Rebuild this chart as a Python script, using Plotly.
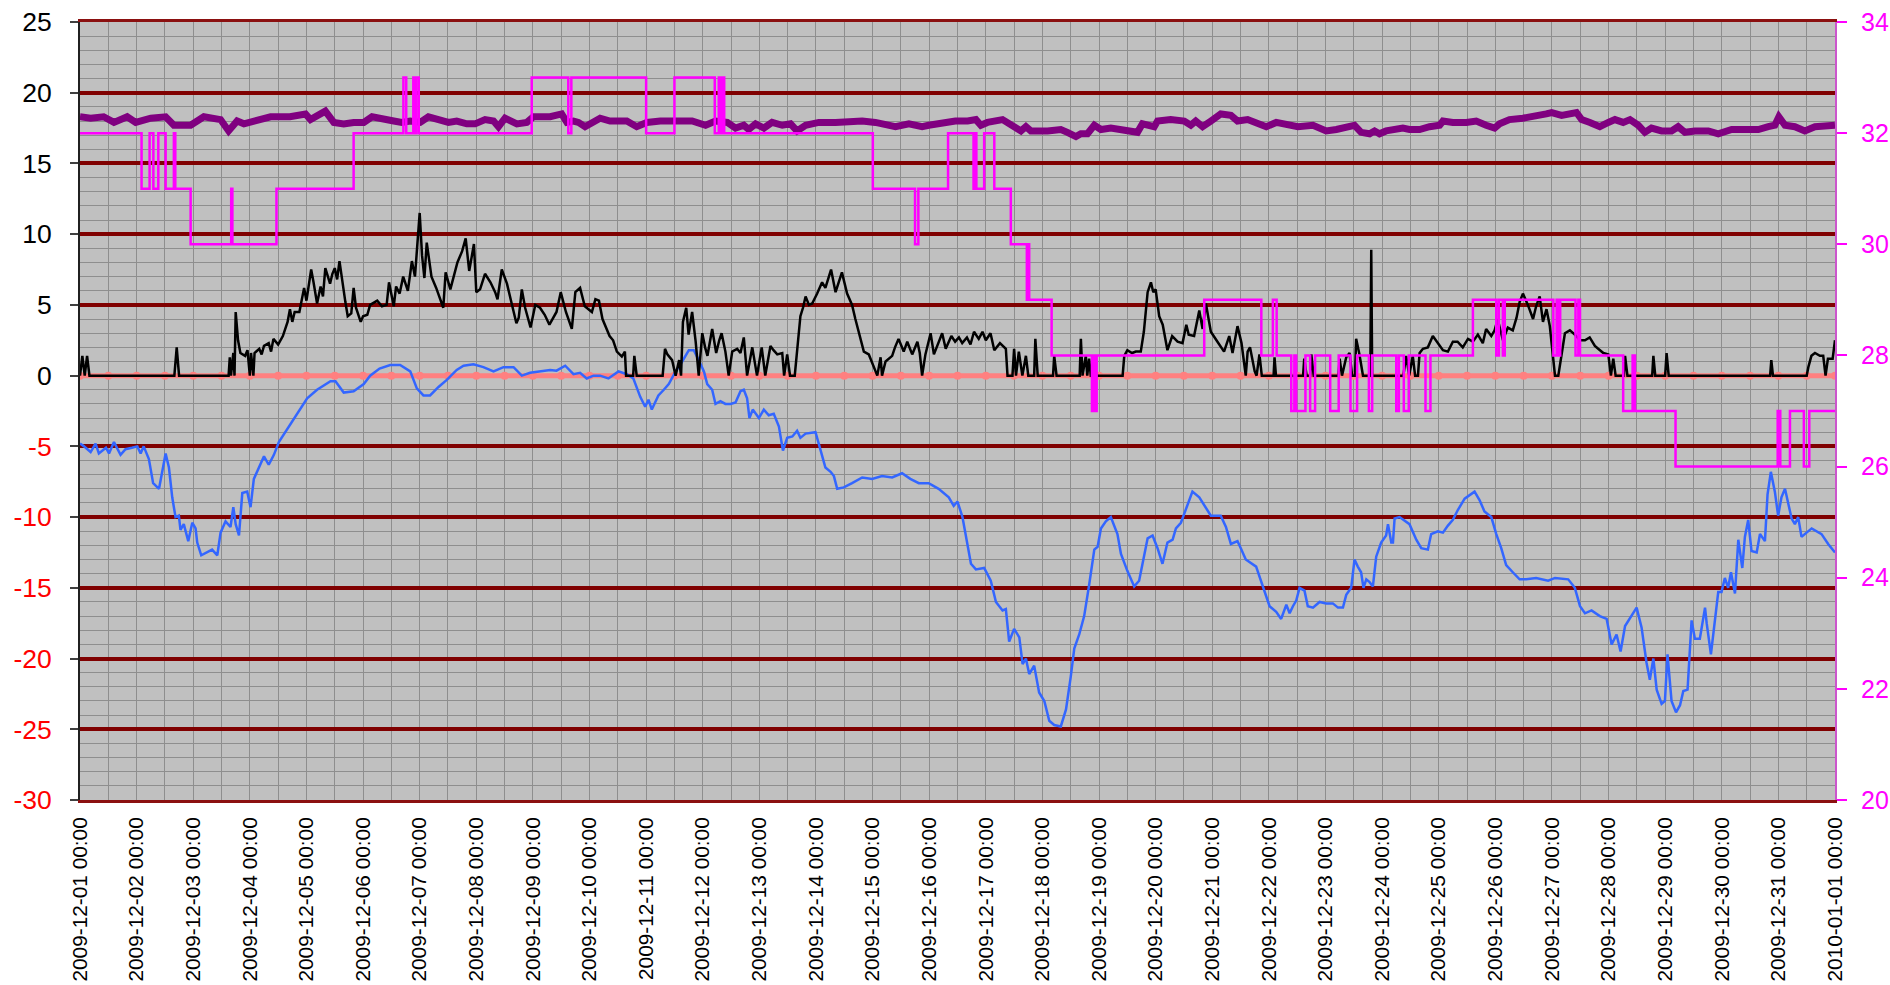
import pandas as pd
import plotly.graph_objects as go

START = pd.Timestamp("2009-12-01 00:00")

# ---- data: (hours since 2009-12-01 00:00, value) ----
black_pts = [(0,0),(1,1.4),(2,0),(3,1.4),(4,0),(40,0),(41,2.0),(42,0),(63,0),(63.5,1.3),(64,0),(65,1.6),(65.5,0),(66,4.5),(67,2.5),(68,1.6),(70,1.4),(71,1.8),(72,0),(72.5,1.6),(73.5,0),(74,1.6),(76,1.9),(77,1.5),(78,2.1),(80,2.3),(81,1.7),(82,2.6),(84,2.2),(86,2.8),(88,3.8),(89,4.7),(90,3.8),(91,4.5),(93,4.5),(95,6.2),(96,5.3),(98,7.5),(99,6.6),(100.5,5.1),(102,6.3),(103,5.6),(104,7.6),(106,6.5),(107,7.2),(108,7.6),(109,6.8),(110,8.1),(112.5,5.2),(113.5,4.2),(115,4.4),(116,6.2),(117,4.8),(119,3.8),(120,4.2),(121.8,4.3),(123,5.0),
(126,5.3),(128,4.9),(130,5.0),(131,6.6),(133,4.9),(134,6.3),(135.5,5.8),(137,7.0),(139,6.0),(140.7,8.1),(142,7.0),(144,11.5),(145,8.5),(146,6.9),(147,9.4),(149,7.0),(151,6.2),(154,4.8),(155,7.3),(157,6.1),(158.5,7.0),(160,8.0),(162,8.8),(163.5,9.7),(165,7.4),(167,9.3),(168,5.9),(169.6,6.1),(171.7,7.2),(174,6.6),(176,5.9),(177,5.4),(178.8,7.5),(181,6.5),(183,5.1),(185,3.7),(186,4.1),(187.3,6.1),(188.7,4.8),(191,3.4),(193,5.0),(195,4.8),(197,4.3),(199,3.6),(202,4.5),(203.8,5.9),(206,4.5),(208.5,3.3),(210,5.9),(212,6.2),(214,4.9),(217,4.5),(218.5,5.4),(220,5.3),(221.5,4.0),(223,3.4),(224.5,2.8),(226,2.5),(227.6,1.7),(229.7,1.35),(231,1.7),(231.5,0),(234.5,0),(235,1.4),(236,0),(247,0),(248,1.9),
(249,1.5),(251,1.1),(252.5,0),(254,1.1),(254.8,0),(255.6,3.8),(257,4.8),(258,2.9),(259.5,4.5),(261,2.4),(262.3,0),(263.8,3.0),(265,2.0),(266,1.4),(268,3.3),(269.7,1.6),(271,2.5),(272,3.0),(273.6,1.7),(275,0),(276.5,1.7),(278.6,1.9),(280,1.6),(281.4,2.7),(282.8,0),(284,1.2),(285,2.0),(287,0),(288,1.1),(289,2.0),(290.5,0),(292.7,2.1),(294,1.8),(295.6,1.5),(297.7,1.6),(298.5,0),(299.8,1.5),(301,0),(303,0),(304,1.8),(305.4,4.2),(306.5,4.8),(307.6,5.6),(309,5.0),(310.4,5.1),(312.5,5.8),(314.6,6.6),(316,6.2),(317.5,7.0),(318.4,7.5),(320.3,5.9),(321.5,6.6),(323,7.3),(325.2,5.8),(327.3,5.0),(328.7,4.0),(330,3.1),(332.3,1.7),(334.4,1.5),(336,0.8),(338,0),(339.4,1.3),(340,0),(341.5,1.0),(344.3,1.4),(345.5,2.0),(347,2.6),(349.2,1.7),(350.7,2.4),(352.8,1.5),(355,2.4),(356,1.6),(357,0),(358.4,1.5),(360.6,3.0),(362,1.5),(364,2.3),(365.5,3.0),(367,1.9),(369.4,2.8),(371,2.4),
(372.6,2.7),(374,2.3),(376,2.7),(377.5,2.2),(379,3.1),(381,2.6),(382.6,3.1),(384,2.5),(386,3.0),(387.6,1.8),(390,2.3),(392.5,1.9),(393.2,0),(395.3,0),(396,1.9),(396.8,0),(398,1.7),(399.5,0),(401,1.4),(402,0),(404.5,0),(405,2.6),(406,0),(412.5,0),(413,1.4),(414,0),(423.8,0),(424.3,2.6),(425,0),(426.4,1.4),(427,0),(427.8,1.2),(428.5,0),(442,0),(442.7,1.4),(444,1.8),(446,1.6),(447.6,1.7),(449.7,1.7),(451,3.1),(452.6,5.9),(454,6.6),(455,5.9),(456,6.1),(457.5,4.2),(459,3.6),(461,1.8),(463,2.8),(465.3,2.4),(467.4,2.3),(469,3.6),(470,2.9),(472.3,2.8),(474.5,4.6),(475.9,3.3),(477.3,5.1),(479.4,3.1),(482.2,2.4),(485,1.7),(487.2,2.8),(488.6,1.6),(490.7,3.5),(492.4,2.3),(494.2,0),(495,1.7),(496,2.0),
(498,0.3),(498.8,0),(500,1.5),(501,0),(506,0),(506.4,1.3),(507,0),(518.5,0),(519,1.2),(520,0),(521.5,0),(522,1.5),(523,0),(533.5,0),(534,1.2),(535,0),(536.8,1.3),(538.2,1.6),(539.3,0),(540.5,0),(541,2.6),(542.4,1.5),(543.9,0),(547,0),(547.4,8.9),(547.8,0),(561,0),(562.2,1.4),(563.5,0),(565,1.4),(566,0),(567.2,0),(567.9,1.6),(569.3,1.9),(571.4,2.0),(573.5,2.8),(575.6,2.3),(577.8,1.8),(579.9,1.7),(582,2.4),(584,2.4),(586.2,2.0),(588.4,2.6),(590.5,2.4),(592.6,2.9),(594.7,2.3),(596.1,3.3),(598.3,2.8),(599.7,3.2),(601,4.0),(603.2,2.5),(605.3,3.4),(607.4,3.2),(609,4.1),(610.3,5.2),(611.7,5.8),(613.8,5.0),(616,4.0),(617.3,4.9),(618.8,5.6),(620.2,3.8),
(621.7,4.7),(623.1,3.5),(624.6,1.4),(625.3,0),(626.7,0),(627.8,1.3),(629.5,3.0),(631.6,3.2),(633.7,2.9),(635.9,2.5),(638,2.5),(640,2.7),(642.2,2.1),(643.6,1.9),(645.8,1.6),(647.9,1.5),(649,0),(650,1.2),(651,0),(654.5,0),(655,1.4),(656,0),(666.5,0),(667,1.4),(667.8,0),(672,0),(672.6,1.6),(673.5,0),(716.5,0),(717,1.1),(717.7,0),(732,0),(732.7,0.6),(734,1.4),(735.5,1.6),(737.6,1.4),(739,1.4),(740,0),(741,1.2),(743,1.2),(744,2.5)]

blue_pts = [(0,-4.8),(1.7,-5.0),(4.5,-5.4),(6.6,-4.8),(8,-5.5),(11,-5.1),(12.3,-5.5),(14.4,-4.7),(17.2,-5.6),(19.3,-5.2),(22,-5.1),(24.3,-5.0),(25.7,-5.5),(27,-5.0),(29.2,-5.9),(31,-7.6),(33.5,-8.0),(35.3,-6.2),(36.3,-5.5),(37.7,-6.5),(39.1,-8.6),(40.5,-10.0),(41.9,-9.9),(42.6,-10.9),(44,-10.5),(45.9,-11.7),(47.6,-10.4),(49,-10.8),(49.7,-11.8),(51.4,-12.7),(53.9,-12.5),(56,-12.3),(58.2,-12.7),(59.6,-11.1),(61.7,-10.3),(63.8,-10.7),(65,-9.3),(66,-10.5),(67.4,-11.3),(68.8,-8.3),(70.9,-8.2),(72.3,-9.3),(73.7,-7.3),(75.8,-6.5),(78,-5.7),(80,-6.3),(82.2,-5.6),(84.3,-4.7),(87.8,-3.8),(91.4,-2.8),(96.3,-1.6),(100.5,-1.0),(106.2,-0.4),(108.3,-0.4),(111.8,-1.2),(116,-1.1),(120.3,-0.6),(123,0.0),(127,0.5),(131.5,0.75),(135.7,0.75),(140,0.3),(142.8,-0.9),(145.6,-1.4),(148.4,-1.4),(152,-0.8),(155.5,-0.3),(159.7,0.4),(162.6,0.7),(166.8,0.8),(171,0.6),(175.3,0.3),(179.5,0.6),(183.8,0.6),(187.3,0.0),(190.8,0.2),(195,0.3),(199.3,0.4),(202,0.35),(205.7,0.7),(209.2,0.1),(212,0.2),(214.8,-0.2),(217.7,0.0),(220.5,0.0),(224,-0.2),(228.3,0.3),(231.8,0.1),(234.6,-0.2),(237.5,-1.5),(239.6,-2.2),(241,-1.7),(242.4,-2.4),(245.2,-1.4),(247.5,-1.0),(249.6,-0.6),(252.5,0.3),(255.3,1.0),(258.1,1.8),(260.2,1.8),(262.3,1.1),(264.5,0.3),(265.9,-0.6),(268,-1.0),(269.4,-2.0),(271.5,-1.8),(273.6,-2.0),(275.8,-2.0),(277.9,-1.9),(280,-1.1),(281.4,-1.0),(282.8,-1.6),(283.8,-3.0),(285.2,-2.4),(287.8,-3.0),(289.9,-2.4),(292,-2.8),(294.1,-2.7),(296.3,-3.6),(298,-5.3),(299.8,-4.4),(302,-4.3),(304,-3.9),(305.4,-4.4),(307.6,-4.1),(311.8,-4.0),(314,-5.3),(316,-6.5),(318.2,-6.8),(319.6,-7.1),(321,-8.0),(323.8,-7.9),(327.3,-7.6),(331.6,-7.2),(335.8,-7.3),(340,-7.1),(344.3,-7.2),(348.5,-6.9),(352,-7.3),(355.6,-7.6),(359.8,-7.6),(364,-8.0),(368.3,-8.6),(370.4,-9.2),(372,-8.9),(374.1,-10.0),(377.7,-13.3),(379.8,-13.7),(383.3,-13.6),(386.1,-14.5),(388.3,-16.0),(391.1,-16.6),(392.5,-16.5),(393.9,-18.8),(396,-17.9),(398.2,-18.5),(399.6,-20.4),(401,-20.0),(402.4,-21.1),(404.5,-20.5),(406.6,-22.4),(408.8,-23.0),(410.9,-24.4),(413,-24.7),(415.8,-24.8),(418,-23.6),(420,-21.3),(421.5,-19.3),(423.6,-18.3),(425.7,-17.0),(427.8,-14.8),(430,-12.3),(431.4,-12.1),(432.8,-10.8),(434.9,-10.3),(437,-10.0),(439.8,-11.2),(441.3,-12.6),(444,-13.8),(446.9,-14.9),(449,-14.5),(450.4,-13.3),(452.6,-11.5),(454.7,-11.3),(456.8,-12.2),(458.9,-13.3),(461,-11.8),(463.2,-11.6),(464.6,-10.8),(466.7,-10.4),(468,-9.8),(470.2,-8.8),(471.6,-8.2),(474.5,-8.6),(477.3,-9.4),(479.4,-9.9),(483.6,-9.9),(485.8,-10.7),(487.9,-11.9),(490.7,-11.7),(492.1,-12.2),(494.2,-13.0),(498.6,-13.5),(501.5,-14.9),(504.3,-16.3),(507.1,-16.7),(509.2,-17.2),(511.4,-16.2),(512.8,-16.8),(514.2,-16.3),(515.6,-15.9),(517,-15.0),(519.1,-15.2),(520.5,-16.3),(522.7,-16.4),(525.5,-16.0),(528.3,-16.1),(531.1,-16.1),(533.3,-16.4),(535.4,-16.4),(536.8,-15.5),(538.9,-15.0),(540.3,-13.0),(541.7,-13.5),(543.1,-13.9),(544.1,-15.0),(545.3,-14.4),(546.7,-14.6),(548.1,-14.9),(549.5,-12.8),(551.6,-11.8),(553.7,-11.3),(554.5,-10.5),(555.9,-11.8),(556.6,-11.8),(557.3,-10.1),(559.4,-10.0),(563.6,-10.5),(566.5,-11.6),(568.6,-12.2),(571.4,-12.3),(572.8,-11.2),(575.6,-11.0),(577.8,-11.1),(579.9,-10.6),(582,-10.2),(584.1,-9.5),(587,-8.7),(591.2,-8.2),(593.3,-8.8),(595.4,-9.6),(598.3,-10.0),(600.4,-11.2),(602.5,-12.2),(604.6,-13.4),(607.4,-13.9),(610.3,-14.4),(613.1,-14.4),(617.3,-14.3),(622.4,-14.5),(625.3,-14.3),(630.9,-14.4),(633.7,-15.0),(635.9,-16.3),(638,-16.8),(640.8,-16.6),(644.3,-17.0),(647.2,-17.2),(649.3,-19.0),(651.4,-18.3),(653.1,-19.5),(655,-17.7),(657.8,-17.0),(659.9,-16.4),(662,-17.8),(664.1,-20.3),(665.5,-21.5),(667,-20.0),(668.4,-22.2),(670.5,-23.2),(671.9,-23.0),(673,-19.7),(674.7,-23.0),(676.6,-23.8),(678.3,-23.3),(679.7,-22.3),(681.5,-22.2),(683.2,-17.3),(684.6,-18.6),(686.7,-18.6),(688.9,-16.4),(689.6,-17.5),(691.4,-19.7),(693.1,-17.2),(694.5,-15.3),(695.9,-15.3),(697.3,-14.3),(698.7,-15.0),(699.9,-13.9),(701.6,-15.4),(703,-11.6),(704.7,-13.6),(705.8,-11.4),(707.2,-10.2),(708.6,-12.4),(710.8,-12.5),(712.2,-11.2),(714.3,-11.7),(715.4,-8.4),(716.8,-6.8),(718.5,-8.2),(719.9,-9.9),(721.3,-8.6),(722.8,-8.0),(725.6,-10.1),(727,-10.5),(728.4,-10.0),(729.8,-11.4),(732,-11.1),(734.1,-10.8),(738.3,-11.2),(741.1,-11.9),(744,-12.5)]

purple_pts = [(0,18.3),(4.5,18.2),(10,18.3),(14.4,17.9),(20,18.3),(23.6,17.9),(30,18.2),(36.3,18.3),(39.8,17.7),(46.9,17.7),(52.5,18.3),(59.6,18.1),(63,17.3),(66.6,18.0),(69.5,17.8),(75,18.1),(80.8,18.3),(89,18.3),(95.6,18.5),(97.7,18.1),(100.5,18.4),(104,18.7),(107.6,17.9),(111.8,17.8),(116,17.9),(120.3,17.9),(123.8,18.3),(128.7,18.2),(133,18.0),(136.4,17.9),(140,18.0),(144.2,17.9),(147.7,18.3),(152,18.1),(156.2,17.9),(159.7,18.0),(164,17.8),(167.5,17.8),(171.7,18.1),(175.3,18.0),(177.4,17.6),(180.2,18.2),(185.2,17.8),(189.4,17.9),(192.2,18.3),(199.3,18.3),(204.2,18.5),(206.4,17.9),(209.2,18.0),(211.3,17.9),(214.1,17.6),(220.5,18.2),(224.7,18.0),(231.8,18.0),(236,17.6),(240.3,17.9),(246,18.0),(253.9,18.0),(259.5,18.0),(265.2,17.7),(269.4,18.0),(274.4,17.9),(277.9,17.5),(281.4,17.7),(283.5,17.4),(286.4,17.8),(289.9,17.5),(293.4,17.9),(297.7,17.7),(301.2,17.8),(304,17.3),(307.6,17.7),(313.2,17.9),(320.3,17.9),(326,18.0),(331.6,18.0),(337.2,17.9),(345.7,17.6),(351.4,17.8),(357,17.6),(359.8,17.7),(365.5,17.9),(371.1,18.0),(376.3,18.0),(379.8,18.1),(381.9,17.7),(384.7,17.9),(391.1,18.1),(394.6,17.8),(398.9,17.3),(401,17.6),(403.1,17.3),(410.2,17.3),(415.8,17.4),(418.6,17.2),(422.2,16.9),(424.3,17.1),(427.1,17.1),(430,17.7),(432.8,17.4),(437,17.5),(441.3,17.4),(444.8,17.4),(448.3,17.2),(450.4,17.8),(455.4,17.6),(456.8,18.0),(462.4,18.1),(468.1,18.0),(470.9,17.7),(473,18.0),(475.9,17.6),(479.4,18.0),(483.6,18.5),(487.9,18.4),(490.7,18.0),(495,18.1),(497.8,17.9),(502.9,17.6),(507.1,17.9),(511.4,17.8),(516.3,17.6),(522.7,17.7),(528.3,17.3),(532.6,17.4),(536.8,17.6),(540.3,17.7),(543.1,17.2),(546.7,17.1),(548.8,17.3),(550.9,17.1),(553.7,17.3),(557.3,17.4),(560.8,17.5),(563.6,17.4),(567.9,17.4),(572.1,17.6),(576.4,17.7),(577.8,18.0),(582,17.9),(587.7,17.9),(591.9,18.0),(596.1,17.7),(599.7,17.5),(601.8,17.8),(606,18.1),(611.7,18.2),(617.3,18.3),(621.6,18.5),(623.9,18.6),(628.1,18.4),(634.4,18.6),(636.6,18.1),(640.1,17.9),(644.3,17.6),(647.9,17.9),(650.7,18.1),(654.2,17.9),(657.1,18.1),(660.6,17.7),(663.4,17.2),(666.2,17.5),(670.5,17.3),(674.7,17.3),(677.5,17.6),(680.4,17.2),(684.6,17.3),(690.3,17.3),(694.5,17.1),(700.2,17.4),(705.8,17.4),(711.5,17.4),(715.7,17.6),(718.5,17.7),(720.2,18.3),(722.8,17.7),(727,17.6),(731.2,17.3),(735.5,17.6),(739.7,17.6),(744,17.7)]

# step series on the right axis: (hour of change, new level)
magenta_steps = [(0,32),(26.1,31),(29.5,32),(31.1,31),(33.2,32),(36.3,31),(39.8,32),(40.4,31),(46.9,30),(64.1,31),(64.6,30),(83.3,31),(116,32),(137.1,33),(138.3,32),(141.3,33),(141.9,32),(142.5,33),(143.6,32),(191.5,33),(207,32),(208.3,33),(240,32),(252,33),(269.1,32),(270.8,33),(271.5,32),(272.2,33),(273.1,32),(336.1,31),(354,30),(355.4,31),(368,32),(378.8,31),(379.5,32),(380,31),(383.3,32),(387.6,31),(394.6,30),(401.4,29),(401.8,30),(402.4,29),(411.9,28),(429,27),(429.6,28),(430.2,27),(431,28),(476.6,29),(500.8,28),(505.7,29),(507.3,28),(513.5,27),(514.8,28),(515.6,27),(519.5,28),(521.5,27),(523.6,28),(530,27),(533.6,28),(538.6,27),(541.4,28),(546.4,27),(547.8,28),(558,27),(559.1,28),(561.2,27),(563.3,28),(570.4,27),(572.5,28),(590.5,29),(600.4,28),(601.5,29),(603.2,28),(604,29),(624.6,28),(626,29),(626.8,28),(627.5,29),(634,28),(635.2,29),(635.9,28),(654.2,27),(658.2,28),(659.2,27),(676.4,26),(719.7,27),(720.8,26),(724.9,27),(730.8,26),(733.1,27),(744,27)]

zero_hours = list(range(0, 745, 12))
zero_vals = [0] * len(zero_hours)

left_ticks = [25, 20, 15, 10, 5, 0, -5, -10, -15, -20, -25, -30]
right_ticks = [20, 22, 24, 26, 28, 30, 32, 34]


def to_xy(pts):
    xs = [START + pd.Timedelta(hours=h) for h, _ in pts]
    ys = [v for _, v in pts]
    return xs, ys


fig = go.Figure()

zx = [START + pd.Timedelta(hours=h) for h in zero_hours]
fig.add_trace(go.Scatter(x=zx, y=zero_vals, mode="lines+markers",
                         line=dict(color="#FF8080", width=5),
                         marker=dict(color="#FF8080", size=8, symbol="circle"),
                         hoverinfo="skip"))

bx, by = to_xy(blue_pts)
fig.add_trace(go.Scatter(x=bx, y=by, mode="lines", line=dict(color="#3366FF", width=2.5)))

kx, ky = to_xy(black_pts)
fig.add_trace(go.Scatter(x=kx, y=ky, mode="lines", line=dict(color="#000000", width=2.5)))

px_, py_ = to_xy(purple_pts)
fig.add_trace(go.Scatter(x=px_, y=py_, mode="lines", line=dict(color="#800080", width=7)))

mx, my = to_xy(magenta_steps)
fig.add_trace(go.Scatter(x=mx, y=my, mode="lines", line=dict(color="#FF00FF", width=2.5, shape="hv"),
                         yaxis="y2"))

left_text = [f'<span style="color:#FF0000">{v}</span>' if v < 0 else str(v) for v in left_ticks]

FONT = "Liberation Sans, Arial, sans-serif"
GRID = "#8E8E8E"

fig.update_layout(
    width=1890, height=985,
    margin=dict(l=80, r=55, t=22, b=185),
    plot_bgcolor="#C0C0C0", paper_bgcolor="white",
    showlegend=False,
    font=dict(family=FONT, color="black"),
    xaxis=dict(
        type="date", automargin=False,
        range=[START, START + pd.Timedelta(days=31)],
        tick0=START, dtick=86400000,
        tickformat="%Y-%m-%d %H:%M", tickangle=-90,
        tickfont=dict(size=20.8, color="black", family=FONT),
        ticks="", showgrid=True, gridcolor=GRID, gridwidth=1,
        minor=dict(dtick=43200000, showgrid=True, gridcolor=GRID, gridwidth=1),
        showline=True, mirror=True, linecolor="#8B1010", linewidth=3,
        zeroline=False, ticklabelstandoff=6, ticklabeloverflow="allow",
    ),
    yaxis=dict(
        range=[-30, 25], tickvals=left_ticks, ticktext=left_text, automargin=False,
        tickfont=dict(size=26.5, color="black", family=FONT),
        ticks="outside", ticklen=8, tickcolor="#404040", tickwidth=1.5,
        showline=True, linecolor="#202020", linewidth=2,
        showgrid=True, gridcolor="#800000", gridwidth=4,
        minor=dict(dtick=1, tick0=0, showgrid=True, gridcolor=GRID, gridwidth=1),
        zeroline=False, ticklabelstandoff=13, ticklabeloverflow="allow",
    ),
    yaxis2=dict(
        overlaying="y", side="right", range=[20, 34], tickvals=right_ticks, automargin=False,
        tickfont=dict(size=25, color="#FF00FF", family=FONT),
        ticks="outside", ticklen=10, tickcolor="#FF00FF", tickwidth=1.5,
        showline=True, linecolor="#CC55CC", linewidth=2,
        showgrid=False, zeroline=False, ticklabelstandoff=9, ticklabeloverflow="allow",
    ),
)

# remove the default 8px page margin so the 1890x985 figure fills the window exactly
fig.write_html(
    "out.html",
    config={"displayModeBar": False},
    post_script="document.body.style.margin='0';document.documentElement.style.overflow='hidden';",
)
